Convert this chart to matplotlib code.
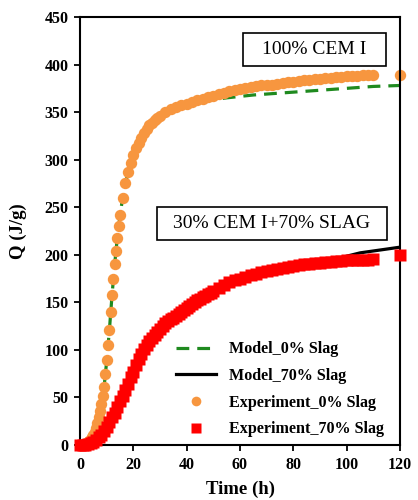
import matplotlib
matplotlib.use("Agg")
import matplotlib.pyplot as plt
from matplotlib.patches import Rectangle

plt.rcParams['font.family'] = ['Liberation Serif', 'DejaVu Serif']

# Experiment 0% slag (orange circles)
exp0_t = [0, 0.5, 1, 1.5, 2, 2.5, 3, 3.5, 4, 4.5, 5, 5.5, 6, 6.5, 7, 7.5, 8, 8.5, 9, 9.5,
          10, 10.5, 11, 11.5, 12, 12.5, 13, 13.5, 14, 14.5, 15, 16, 17, 18, 19, 20, 21, 22,
          23, 24, 25, 26, 27, 28, 29, 30, 32, 34, 36, 38, 40, 42, 44, 46, 48, 50, 52, 54,
          56, 58, 60, 62, 64, 66, 68, 70, 72, 74, 76, 78, 80, 82, 84, 86, 88, 90, 92, 94,
          96, 98, 100, 102, 104, 106, 108, 110, 120]
exp0_q = [0, 0, 0.5, 1, 1.5, 2, 3, 4, 6, 8, 11, 14, 18, 23, 29, 36, 43, 51, 61, 75,
          89, 105, 121, 140, 158, 175, 190, 204, 218, 230, 242, 260, 275, 287, 297, 305, 312, 318,
          323, 328, 332, 336, 339, 342, 344, 346, 350, 353, 355, 357, 359, 361, 363, 364, 366, 367, 369, 370,
          372, 373, 374, 375, 376, 377, 378, 378.5, 379, 380, 381, 381.5, 382, 383, 383.5, 384, 384.5, 385, 385.5, 386,
          386.5, 387, 387.5, 388, 388, 388.5, 389, 389, 389]

# Experiment 70% slag (red squares)
exp70_t = [0, 1, 2, 3, 4, 5, 6, 7, 8, 9, 10, 11, 12, 13, 14, 15, 16, 17, 18, 19, 20,
           21, 22, 23, 24, 25, 26, 27, 28, 29, 30, 31, 32, 33, 34, 35, 36, 37, 38, 39, 40,
           41, 42, 43, 44, 45, 46, 47, 48, 49, 50, 52, 54, 56, 58, 60, 62, 64, 66, 68, 70,
           72, 74, 76, 78, 80, 82, 84, 86, 88, 90, 92, 94, 96, 98, 100, 102, 104, 106, 108, 110, 120]
exp70_q = [0, 0, 0.5, 1, 2, 3, 5, 8, 11, 15, 19, 24, 29, 34, 40, 46, 52, 58, 64, 71, 77,
           84, 90, 96, 101, 105, 109, 113, 116, 119, 122, 125, 128, 130, 132, 134, 136, 138, 140, 142, 144,
           146, 148, 150, 152, 154, 156, 157, 159, 160, 162, 165, 168, 171, 173, 175, 177, 179, 180, 182, 183,
           184.5, 185.5, 186.5, 187.5, 188.5, 189, 190, 190.5, 191, 191.5, 192, 192.5, 193, 193.5, 194, 194, 194.5, 195, 195, 195.5, 200]

# Model 0% slag (green dashed)
mod0_t = [0, 2, 4, 6, 8, 9, 10, 11, 12, 13, 14, 15, 16, 18, 20, 22, 25, 30, 35, 40, 45,
          50, 55, 60, 65, 70, 75, 80, 85, 90, 95, 100, 105, 110, 115, 120]
mod0_q = [0, 1, 5, 17, 42, 60, 88, 120, 157, 190, 218, 241, 260, 287, 305, 318, 332, 346, 354, 358, 361,
          363, 365, 366.5, 368, 369, 370, 371, 372, 373, 374, 375, 376, 377, 377.5, 378]

# Model 70% slag (black solid)
mod70_t = [0, 5, 10, 15, 20, 25, 30, 35, 40, 45, 50, 55, 60, 65, 70, 75, 80, 85, 90, 95,
           100, 105, 110, 115, 120]
mod70_q = [0, 3, 19, 46, 77, 105, 122, 134, 144, 154, 162, 169, 175, 180, 183, 186, 188.5, 190, 191.5, 195,
           198.5, 202, 204, 206, 208]

legend_labels = ["Model_0% Slag", "Model_70% Slag", "Experiment_0% Slag", "Experiment_70% Slag"]
box_texts = ["100% CEM I", "30% CEM I+70% SLAG"]

fig = plt.figure(figsize=(4.18, 5.0), dpi=100)
ax = fig.add_axes([80/418, 1-445/500, 320/418, 428/500])

ax.plot(mod0_t, mod0_q, color='#1f8a1f', lw=2.3, ls=(0, (4, 2.5)), label=legend_labels[0], zorder=2.2)
ax.plot(mod70_t, mod70_q, color='black', lw=2.3, ls='-', label=legend_labels[1], zorder=2)
ax.plot(exp0_t, exp0_q, ls='none', marker='o', ms=8.2, color='#f7963f', mec='none',
        label=legend_labels[2], zorder=2.5, clip_on=False)
ax.plot(exp70_t, exp70_q, ls='none', marker='s', ms=8.5, color='#ff0000', mec='none',
        label=legend_labels[3], zorder=4, clip_on=False)

ax.set_xlim(0, 120)
ax.set_ylim(0, 450)
ax.set_xticks(range(0, 121, 20))
ax.set_yticks(range(0, 451, 50))
ax.tick_params(direction='out', length=4.3, width=1.3, labelsize=11.5, pad=4)
for lab in ax.get_xticklabels() + ax.get_yticklabels():
    lab.set_fontweight('bold')
for sp in ax.spines.values():
    sp.set_linewidth(1.5)

ax.set_xlabel('Time (h)', fontsize=13.5, fontweight='bold')
ax.set_ylabel('Q (J/g)', fontsize=13.5, fontweight='bold')
ax.xaxis.set_label_coords(0.5, -0.083)
ax.yaxis.set_label_coords(-0.165, 0.5)

# annotation boxes
ax.add_patch(Rectangle((61.1, 398.5), 114.75 - 61.1, 433.2 - 398.5, fill=True, fc='white',
                       ec='black', lw=1.2, zorder=6))
ax.text(87.9, 415.5, box_texts[0], ha='center', va='center', fontsize=14, zorder=7)
ax.add_patch(Rectangle((28.9, 215.5), 115.1 - 28.9, 250.2 - 215.5, fill=True, fc='white',
                       ec='black', lw=1.2, zorder=6))
ax.text(72.0, 232.5, box_texts[1], ha='center', va='center', fontsize=14, zorder=7)

leg = ax.legend(loc='lower right', bbox_to_anchor=(0.97, 0.003), frameon=False,
                handlelength=2.5, handletextpad=0.8, labelspacing=0.66, borderaxespad=0.0,
                borderpad=0.4, markerscale=0.85,
                prop={'weight': 'bold', 'size': 11.6})

fig.savefig('out.png', dpi=100)
